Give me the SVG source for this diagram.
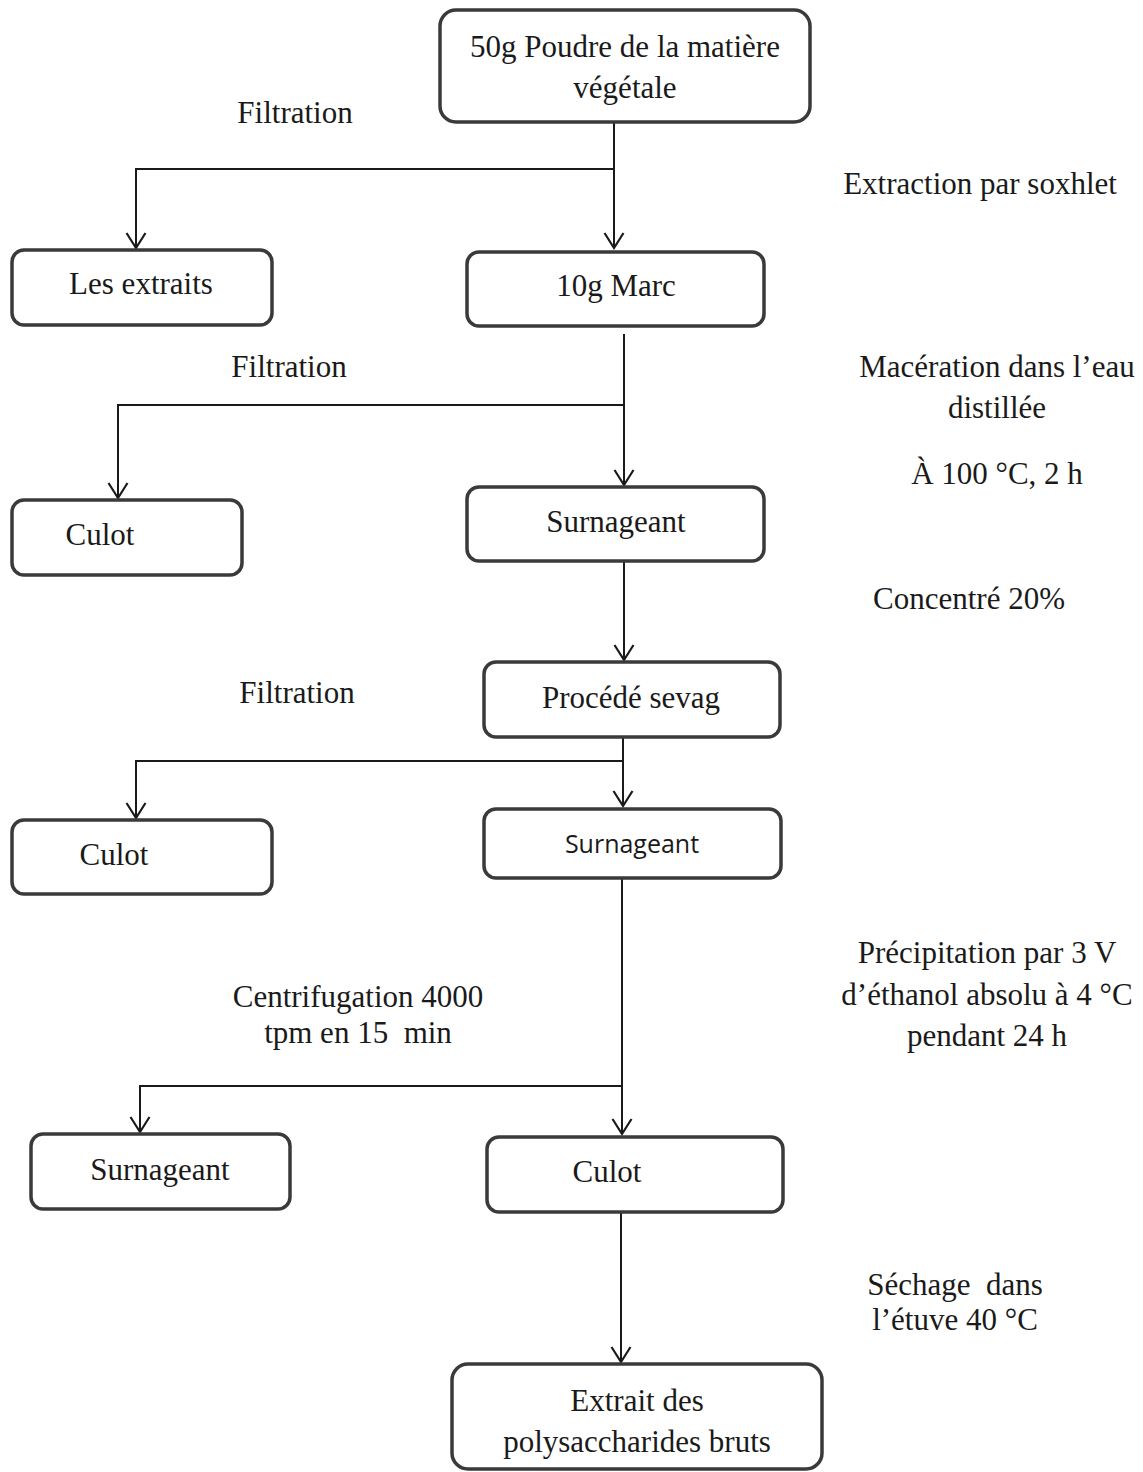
<svg xmlns="http://www.w3.org/2000/svg" width="1143" height="1472" viewBox="0 0 1143 1472">
<defs>
<style>
.box{fill:#fff;stroke:#3a3a3a;stroke-width:3.5}
.t{font-family:"Liberation Serif","Times New Roman",serif;font-size:31px;fill:#1a1a1a;text-anchor:middle;white-space:pre}
.s{font-family:"Open Sans","Liberation Sans",sans-serif;font-size:25px;fill:#1a1a1a;text-anchor:middle}
.c{fill:none;stroke:#1a1a1a;stroke-width:2}
</style>
<marker id="ah" markerWidth="24" markerHeight="24" refX="19" refY="12" orient="auto" markerUnits="userSpaceOnUse" viewBox="0 0 24 24">
<path d="M4 2.5 L19 12 L4 21.5" fill="none" stroke="#1a1a1a" stroke-width="2.2"/>
</marker>
</defs>
<rect width="1143" height="1472" fill="#fff"/>
<g id="connectors">
<path class="c" d="M614 122 V248" marker-end="url(#ah)"/>
<path class="c" d="M614 169 H136 V248" marker-end="url(#ah)"/>
<path class="c" d="M624 334 V485" marker-end="url(#ah)"/>
<path class="c" d="M624 405 H118 V498" marker-end="url(#ah)"/>
<path class="c" d="M624 561 V660" marker-end="url(#ah)"/>
<path class="c" d="M623 737 V806" marker-end="url(#ah)"/>
<path class="c" d="M623 761 H136 V818" marker-end="url(#ah)"/>
<path class="c" d="M622 878 V1134" marker-end="url(#ah)"/>
<path class="c" d="M622 1086 H140 V1132" marker-end="url(#ah)"/>
<path class="c" d="M621 1212 V1362" marker-end="url(#ah)"/>
</g>
<g id="labels">
<text class="t" x="295" y="123">Filtration</text>
<text class="t" x="980" y="194">Extraction par soxhlet</text>
<text class="t" x="289" y="377">Filtration</text>
<text class="t" x="997" y="377">Macération dans l’eau</text>
<text class="t" x="997" y="418">distillée</text>
<text class="t" x="997" y="484">À 100 °C, 2 h</text>
<text class="t" x="969" y="609">Concentré 20%</text>
<text class="t" x="297" y="703">Filtration</text>
<text class="t" x="987" y="963">Précipitation par 3 V</text>
<text class="t" x="987" y="1005">d’éthanol absolu à 4 °C</text>
<text class="t" x="987" y="1046">pendant 24 h</text>
<text class="t" x="358" y="1007">Centrifugation 4000</text>
<text class="t" x="358" y="1043" xml:space="preserve">tpm en 15  min</text>
<text class="t" x="955" y="1295" xml:space="preserve">Séchage  dans</text>
<text class="t" x="955" y="1330">l’étuve 40 °C</text>
</g>
<g id="n1"><rect class="box" x="440" y="10" width="370" height="112" rx="16"/><text class="t" x="625" y="57">50g Poudre de la matière</text><text class="t" x="625" y="98">végétale</text></g>
<g id="n2"><rect class="box" x="12" y="250" width="260" height="75" rx="12"/><text class="t" x="141" y="294">Les extraits</text></g>
<g id="n3"><rect class="box" x="467" y="252" width="297" height="74" rx="12"/><text class="t" x="616" y="296">10g Marc</text></g>
<g id="n4"><rect class="box" x="12" y="500" width="230" height="75" rx="12"/><text class="t" x="100" y="545">Culot</text></g>
<g id="n5"><rect class="box" x="467" y="487" width="297" height="74" rx="12"/><text class="t" x="616" y="532">Surnageant</text></g>
<g id="n6"><rect class="box" x="484" y="662" width="296" height="75" rx="12"/><text class="t" x="631" y="708">Procédé sevag</text></g>
<g id="n7"><rect class="box" x="12" y="820" width="260" height="74" rx="12"/><text class="t" x="114" y="865">Culot</text></g>
<g id="n8"><rect class="box" x="484" y="809" width="297" height="69" rx="12"/><text class="s" x="632" y="853">Surnageant</text></g>
<g id="n9"><rect class="box" x="31" y="1134" width="259" height="75" rx="12"/><text class="t" x="160" y="1180">Surnageant</text></g>
<g id="n10"><rect class="box" x="487" y="1137" width="296" height="75" rx="12"/><text class="t" x="607" y="1182">Culot</text></g>
<g id="n11"><rect class="box" x="452" y="1364" width="370" height="105" rx="16"/><text class="t" x="637" y="1411">Extrait des</text><text class="t" x="637" y="1452">polysaccharides bruts</text></g>
</svg>
